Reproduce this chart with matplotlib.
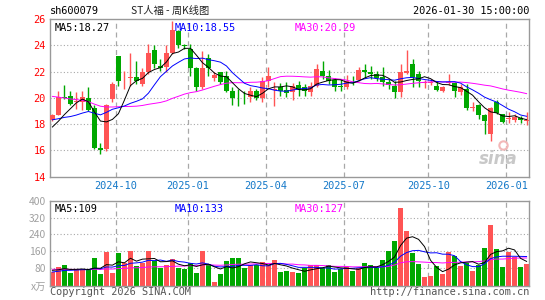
import matplotlib
matplotlib.use("Agg")
import matplotlib.pyplot as plt
import numpy as np
import pandas as pd

# weekly candles, 2024-07-26 .. 2026-01-30
opens = [18.28, 18.71, 20.10, 20.17, 19.70, 19.67, 20.00, 19.24, 16.15, 16.09,
         19.92, 23.19, 21.33, 21.50, 21.60, 21.05, 21.93, 23.65, 22.44, 22.31,
         23.45, 25.08, 24.00, 23.70, 22.30, 20.80, 23.00, 21.50, 21.93, 21.68,
         20.55, 20.02, 20.02, 20.05, 20.55, 20.00, 21.30, 20.62, 20.80, 20.60,
         20.42, 21.00, 20.80, 20.42, 20.93, 22.06, 21.68, 21.35, 20.90, 20.80,
         21.32, 21.35, 22.10, 22.00, 21.80, 21.55, 21.18, 20.93, 20.42, 21.86,
         22.56, 21.80, 21.15, 21.15, 20.93, 20.55, 21.10, 21.10, 20.42, 20.68,
         19.24, 19.42, 18.66, 17.22, 19.67, 18.79, 18.38, 18.33, 18.48, 18.25]
highs = [18.79, 20.50, 21.00, 20.50, 20.42, 20.55, 20.85, 19.42, 16.60, 19.54,
         21.18, 23.20, 22.06, 23.45, 22.80, 22.30, 24.08, 24.00, 22.94, 24.02,
         25.85, 25.20, 24.10, 24.10, 22.35, 23.60, 23.37, 21.93, 22.00, 22.06,
         20.80, 20.68, 20.55, 20.80, 20.68, 21.55, 22.31, 21.18, 21.10, 21.18,
         21.10, 21.30, 21.05, 21.18, 22.60, 22.77, 22.10, 21.50, 21.43, 21.76,
         21.68, 22.36, 22.56, 22.44, 22.06, 22.36, 21.43, 21.30, 22.60, 23.62,
         22.99, 22.06, 21.35, 21.40, 21.30, 20.93, 21.80, 21.18, 21.05, 21.05,
         19.67, 19.54, 18.74, 19.30, 19.80, 18.80, 18.93, 18.79, 18.60, 18.93]
lows = [18.23, 18.66, 19.95, 19.42, 19.16, 19.09, 18.99, 16.10, 15.70, 15.96,
        19.67, 20.93, 20.68, 20.93, 21.05, 20.93, 21.80, 22.30, 22.06, 21.93,
        23.30, 23.80, 23.70, 21.70, 20.55, 20.68, 21.68, 21.30, 21.05, 20.42,
        19.42, 19.35, 19.55, 19.67, 19.80, 19.67, 20.80, 19.35, 20.17, 20.05,
        19.80, 20.17, 20.17, 20.17, 20.80, 21.43, 21.05, 20.50, 20.55, 20.68,
        21.00, 21.25, 21.50, 21.43, 21.30, 20.93, 20.68, 20.00, 20.10, 21.80,
        20.80, 20.80, 20.75, 21.00, 20.55, 20.42, 21.00, 20.10, 20.25, 19.09,
        18.99, 18.40, 17.27, 16.72, 18.74, 18.05, 18.10, 18.15, 18.05, 17.95]
closes = [18.71, 20.10, 20.02, 19.54, 19.75, 20.10, 19.09, 16.19, 16.05, 19.42,
          21.05, 21.25, 21.38, 21.55, 21.30, 21.93, 23.45, 22.56, 22.26, 23.45,
          25.14, 24.02, 23.95, 22.30, 20.80, 22.30, 22.26, 21.76, 21.18, 20.55,
          20.00, 19.98, 19.97, 20.50, 20.00, 21.30, 21.68, 20.68, 20.50, 20.40,
          20.93, 20.68, 20.50, 20.93, 22.19, 21.68, 21.30, 20.85, 20.85, 21.30,
          21.28, 22.10, 22.00, 21.80, 21.50, 21.18, 21.00, 20.42, 21.93, 22.06,
          21.60, 21.25, 21.20, 21.20, 20.62, 20.80, 21.18, 20.50, 20.80, 19.24,
          19.30, 18.66, 18.23, 19.24, 18.84, 18.15, 18.43, 18.53, 18.33, 18.27]
# volume, 10k lots
volumes = [61, 85, 93, 56, 69, 69, 72, 128, 51, 157,
           56, 152, 104, 160, 88, 104, 160, 112, 81, 93,
           121, 80, 75, 101, 56, 160, 96, 11, 49, 112,
           128, 128, 80, 93, 93, 109, 93, 117, 61, 64,
           59, 54, 80, 93, 93, 80, 93, 61, 73, 85,
           64, 80, 104, 93, 80, 117, 160, 209, 368, 256,
           152, 97, 35, 40, 88, 49, 157, 137, 88, 104,
           64, 93, 176, 285, 169, 83, 157, 134, 83, 97]

# earlier weeks (off chart), only used to seed the moving averages
prior_closes = [21.8, 22.1, 21.6, 21.2, 21.9, 22.3, 21.5, 20.8, 21.3, 21.0,
                20.6, 20.9, 21.4, 20.7, 20.3, 20.8, 20.5, 20.1, 19.8, 19.4,
                19.3, 19.0, 18.9, 18.6, 18.6, 17.9, 17.5, 17.3, 17.5]
prior_volumes = [85, 92, 70, 78, 88, 66, 74, 95, 82, 71,
                 77, 90, 68, 84, 79, 73, 86, 75, 81, 76,
                 48, 55, 50, 57, 50, 72, 66, 75, 66]

quarter_weeks = ["2024-10-11", "2025-01-03", "2025-04-04", "2025-07-04", "2025-10-10", "2026-01-09"]
quarter_labels = ["2024-10", "2025-01", "2025-04", "2025-07", "2025-10", "2026-01"]

RED = "#ff5454"
GREEN = "#00a800"
GRID = "#a8a8a8"
FRAME = "#999999"
MONO = "DejaVu Sans Mono"
CJK = ["Noto Sans CJK SC", "DejaVu Sans Mono"]
FS = 7.4
VOL_FLOOR = -7

weeks = pd.date_range("2024-07-26", "2026-01-30", freq="W-FRI")
x = np.arange(len(closes))
o, h, l, c = map(np.array, (opens, highs, lows, closes))
up = c >= o
colors = np.where(up, RED, GREEN)
tick_pos = [weeks.get_loc(pd.Timestamp(d)) - 0.4 for d in quarter_weeks]


def moving_avg(prior, vals, n):
    s = pd.Series(list(prior) + list(vals), dtype=float)
    return s.rolling(n, min_periods=1).mean().to_numpy()[len(prior):]


fig = plt.figure(figsize=(5.45, 3.0), dpi=100)
ax = fig.add_axes([50 / 545, 123.3 / 300, 479 / 545, 157.7 / 300])
axv = fig.add_axes([50 / 545, 14 / 300, 479 / 545, 85 / 300])

for a in (ax, axv):
    a.set_xlim(-0.4, 79.4)
    for s in a.spines.values():
        s.set_color(FRAME)
        s.set_linewidth(1.0)
    a.tick_params(length=0, pad=3)
    for p in tick_pos:
        a.axvline(p, color=GRID, lw=0.9, ls=(0, (4, 3)), zorder=0)

# price panel
ax.set_ylim(14, 26)
ax.set_yticks(range(14, 27, 2))
ax.set_yticklabels([str(v) for v in range(14, 27, 2)], color="red", fontsize=FS, family=MONO)
for v in range(16, 26, 2):
    ax.axhline(v, color=GRID, lw=0.8, ls=(0, (1, 2)), zorder=0)
ax.set_xticks(tick_pos)
ax.set_xticklabels(quarter_labels, color="#1478c8", fontsize=FS, family=MONO)

ax.vlines(x, l, h, colors=colors, lw=1.0, zorder=2)
body_lo = np.minimum(o, c)
body_h = np.maximum(np.abs(c - o), 0.04)
ax.bar(x, body_h, bottom=body_lo, width=0.72, color=colors, zorder=3)

ax.plot(x, moving_avg(prior_closes, closes, 30), color="#ff00ff", lw=0.7, zorder=4)
ax.plot(x, moving_avg(prior_closes, closes, 10), color="#0000ff", lw=0.7, zorder=4)
ax.plot(x, moving_avg(prior_closes, closes, 5), color="black", lw=0.7, zorder=4)

ax.text(0.01, 0.975, "MA5:18.27", transform=ax.transAxes, ha="left", va="top",
        fontsize=FS, family=MONO, color="black")
ax.text(0.26, 0.975, "MA10:18.55", transform=ax.transAxes, ha="left", va="top",
        fontsize=FS, family=MONO, color="#0000ff")
ax.text(0.511, 0.975, "MA30:20.29", transform=ax.transAxes, ha="left", va="top",
        fontsize=FS, family=MONO, color="#ff00ff")
ax.text(0.935, 0.055, "sina", transform=ax.transAxes, ha="center", va="bottom",
        fontsize=12, fontweight="bold", style="italic", color="#c8c8c8", zorder=1)
ax.plot([0.945], [0.2], marker="o", ms=6, mfc="none", mec="#f2b8b8", mew=1.5,
        transform=ax.transAxes, zorder=1)

# volume panel
axv.set_ylim(VOL_FLOOR, 400)
axv.set_yticks([VOL_FLOOR, 80, 160, 240, 320, 400])
axv.set_yticklabels(["x万", "80", "160", "240", "320", "400"], color="#a0a0a0", fontsize=FS,
                    family=CJK)
for v in (80, 160, 240, 320):
    axv.axhline(v, color=GRID, lw=0.8, ls=(0, (1, 2)), zorder=0)
axv.set_xticks([])
axv.bar(x, np.array(volumes) - VOL_FLOOR, bottom=VOL_FLOOR, width=0.78, color=colors, zorder=2)
axv.plot(x, moving_avg(prior_volumes, volumes, 30), color="#ff00ff", lw=0.7, zorder=4)
axv.plot(x, moving_avg(prior_volumes, volumes, 10), color="#0000ff", lw=0.7, zorder=4)
axv.plot(x, moving_avg(prior_volumes, volumes, 5), color="black", lw=0.7, zorder=4)

axv.text(0.01, 0.96, "MA5:109", transform=axv.transAxes, ha="left", va="top",
         fontsize=FS, family=MONO, color="black")
axv.text(0.26, 0.96, "MA10:133", transform=axv.transAxes, ha="left", va="top",
         fontsize=FS, family=MONO, color="#0000ff")
axv.text(0.511, 0.96, "MA30:127", transform=axv.transAxes, ha="left", va="top",
         fontsize=FS, family=MONO, color="#ff00ff")

# header / footer
fig.text(50 / 545, 1 - 11 / 300, "sh600079", ha="left", va="center", fontsize=FS, family=MONO)
fig.text(170 / 545, 1 - 11 / 300, "ST人福 - 周K线图", ha="center", va="center", fontsize=FS,
         family=CJK, color="#222222")
fig.text(529 / 545, 1 - 11 / 300, "2026-01-30 15:00:00", ha="right", va="center",
         fontsize=FS, family=MONO)
fig.text(50 / 545, 1 - 292 / 300, "Copyright 2026 SINA.COM", ha="left", va="center",
         fontsize=FS, family=MONO, color="#555555")
fig.text(529 / 545, 1 - 292 / 300, "http://finance.sina.com.cn", ha="right", va="center",
         fontsize=FS, family=MONO, color="#555555")

fig.savefig("out.png", dpi=100, facecolor="white")
